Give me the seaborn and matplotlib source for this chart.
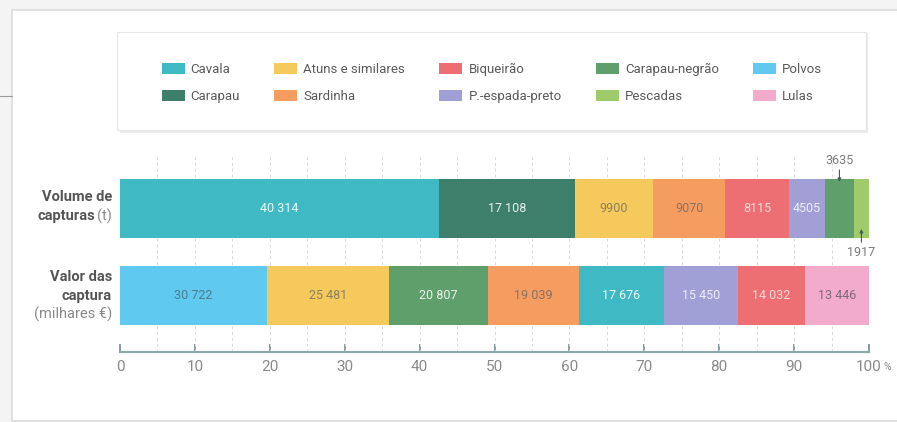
import matplotlib
matplotlib.use("Agg")
import matplotlib.pyplot as plt
import seaborn as sns
import numpy as np
from matplotlib.patches import Rectangle, Patch

# legend order (column by column)
species = ["Cavala", "Carapau", "Atuns e similares", "Sardinha", "Biqueirão",
           "P.-espada-preto", "Carapau-negrão", "Pescadas", "Polvos", "Lulas"]
species_colors = ["#3fb9c3", "#3e7f6c", "#f5c95c", "#f59d60", "#ee6f73",
                  "#a09fd6", "#5f9f6b", "#a0cb6a", "#5fc9f0", "#f3abcc"]
label_colors = ["#eef9fa", "#e6f0ec", "#8a8060", "#8a7060", "#f5dcdc",
                "#eeeef9", "#eef5ee", "#556b40", "#4c7d90", "#7d6a74"]

volume_species = ["Cavala", "Carapau", "Atuns e similares", "Sardinha",
                  "Biqueirão", "P.-espada-preto", "Carapau-negrão", "Pescadas"]
volume_t = [40314, 17108, 9900, 9070, 8115, 4505, 3635, 1917]

value_species = ["Polvos", "Atuns e similares", "Carapau-negrão", "Sardinha",
                 "Cavala", "P.-espada-preto", "Biqueirão", "Lulas"]
value_keur = [30722, 25481, 20807, 19039, 17676, 15450, 14032, 13446]

x_ticks = [0, 10, 20, 30, 40, 50, 60, 70, 80, 90, 100]

sns.set_style("white")
plt.rcParams['font.family'] = ['Roboto', 'DejaVu Sans']

W, H = 897, 422
fx = lambda p: p / W
fy = lambda p: 1 - p / H

color_of = dict(zip(species, species_colors))
text_of = dict(zip(species, label_colors))


def fmt(v):
    return f"{v:,}".replace(",", " ") if v >= 10000 else str(v)


fig = plt.figure(figsize=(W / 100, H / 100), dpi=100)
fig.patch.set_facecolor("#f4f4f4")

# card background
fig.patches.append(Rectangle((fx(12), fy(421)), 1.0, fy(10) - fy(421),
                             transform=fig.transFigure, facecolor="white",
                             edgecolor="#dcdcdc", lw=1.2, zorder=0))
fig.lines.append(plt.Line2D([0, fx(12)], [fy(96), fy(96)], transform=fig.transFigure,
                            color="#9a9a9a", lw=0.8))

# legend box with soft shadow
fig.patches.append(Rectangle((fx(120), fy(133)), fx(868) - fx(120), fy(33) - fy(133),
                             transform=fig.transFigure, facecolor="#ececec",
                             edgecolor="none", zorder=1))
fig.patches.append(Rectangle((fx(117), fy(130)), fx(866) - fx(117), fy(32) - fy(130),
                             transform=fig.transFigure, facecolor="white",
                             edgecolor="#e6e6e6", lw=0.8, zorder=2))

handles = [Patch(facecolor=c, edgecolor="none", label=s)
           for s, c in zip(species, species_colors)]
fig.legend(handles=handles, ncol=5, loc="center", bbox_to_anchor=(fx(492), fy(83)),
           frameon=False, fontsize=9.5, handlelength=1.75, handleheight=0.9,
           handletextpad=0.45, columnspacing=2.6, labelspacing=1.05,
           labelcolor="#5a5a5a")

ax = fig.add_axes([fx(120), fy(352), fx(869) - fx(120), fy(155) - fy(352)])
ax.set_zorder(3)
ax.patch.set_alpha(0)

rows = [(volume_species, volume_t), (value_species, value_keur)]
bar_h = 0.67
for i, (names, vals) in enumerate(rows):
    vals = np.array(vals, dtype=float)
    share = vals / vals.sum() * 100
    left = np.concatenate([[0], np.cumsum(share)[:-1]])
    ax.barh([i] * len(vals), share, left=left, height=bar_h,
            color=[color_of[n] for n in names], edgecolor="none", zorder=2)
    for n, v, s, l in zip(names, vals, share, left):
        if s < 4:
            continue
        ax.text(l + s / 2, i, fmt(int(v)), ha="center", va="center",
                fontsize=9, color=text_of[n], zorder=3)

# small call-outs on the thin volume segments
vol_share = np.array(volume_t) / sum(volume_t) * 100
vol_left = np.concatenate([[0], np.cumsum(vol_share)[:-1]])
ax.annotate(fmt(volume_t[6]), xy=(vol_left[6] + vol_share[6] / 2, -bar_h / 2 + 0.03),
            xytext=(0, 11), textcoords="offset points", ha="center", va="bottom",
            fontsize=9, color="#7a7a7a",
            arrowprops=dict(arrowstyle="-|>", color="#3f5f55", lw=0.8,
                            mutation_scale=5, shrinkA=0, shrinkB=0))
ax.annotate(fmt(volume_t[7]), xy=(vol_left[7] + vol_share[7] / 2, bar_h / 2 - 0.1),
            xytext=(0, -12), textcoords="offset points", ha="center", va="top",
            fontsize=9, color="#7a7a7a",
            arrowprops=dict(arrowstyle="-|>", color="#3f5f55", lw=0.8,
                            mutation_scale=5, shrinkA=0, shrinkB=0))

ax.set_xlim(0, 100)
ax.set_ylim(1.65, -0.615)
ax.set_yticks([])
for x in np.arange(5, 101, 5):
    ax.axvline(x, color="#d9d9d9", lw=0.7, ls=(0, (3, 3)), zorder=1)

for side in ["top", "right", "left"]:
    ax.spines[side].set_visible(False)
ax.spines["bottom"].set_color("#8fa8a8")
ax.spines["bottom"].set_linewidth(1.6)
ax.set_xticks(x_ticks)
ax.set_xticklabels([str(t) for t in x_ticks])
ax.tick_params(axis="x", bottom=True, direction="in", length=6, width=1.2,
               color="#6f8a8a", labelsize=11, labelcolor="#8a8a8a", pad=6)
ax.text(102.0, -0.05, "%", transform=ax.get_xaxis_transform(), fontsize=7.5,
        color="#8a8a8a", ha="left", va="top")

# row labels: bold part plus light unit part
lab = dict(ha="right", va="center", fontsize=10.5, color="#555555")
xr = fx(112)
fig.text(xr, fy(197), "Volume de", fontweight="bold", **lab)
unit1 = fig.text(xr, fy(216), "(t)", **{**lab, "color": "#8a8a8a"})
fig.text(xr, fy(277), "Valor das", fontweight="bold", **lab)
fig.text(xr, fy(296), "captura", fontweight="bold", **lab)
fig.text(xr, fy(314), "(milhares €)", **{**lab, "color": "#8a8a8a"})
fig.canvas.draw()
bb = unit1.get_window_extent().transformed(fig.transFigure.inverted())
fig.text(bb.x0 - fx(2), fy(216), "capturas", fontweight="bold", **lab)

fig.savefig("out.png", dpi=100, facecolor=fig.get_facecolor())
